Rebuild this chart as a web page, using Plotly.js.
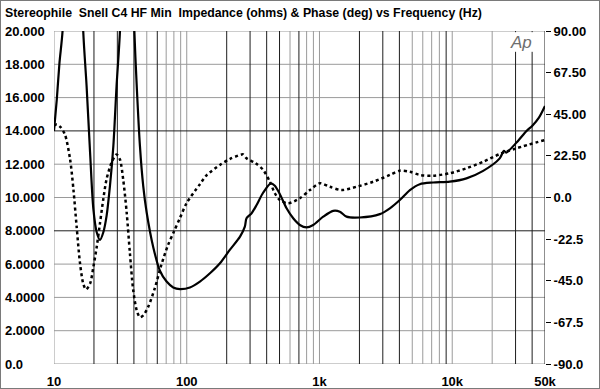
<!DOCTYPE html>
<html><head><meta charset="utf-8">
<script src="https://cdn.plot.ly/plotly-3.0.1.min.js"></script>
<style>
html,body{margin:0;padding:0;background:#fff}
#wrap{position:relative;width:600px;height:389px}
#frame{position:absolute;left:0;top:0;width:598px;height:387px;border:1px solid #7a7a7a;pointer-events:none}
</style>
</head><body><div id="wrap"><div id="chart" style="width:600px;height:389px"></div><div id="frame"></div></div>
<script>
// Impedance magnitude (ohms) vs frequency (Hz)
const impFreq = [10, 10.5, 11.0, 11.6, 12.3, 13.0, 13.8, 14.6, 15.5, 16.6, 17.6, 18.7, 19.8, 21.0, 22.2, 23.5, 24.9, 26.4, 28.0, 29.6, 31.4, 33, 35, 37, 38.8, 40.3, 42.0, 44.4, 47.0, 49.9, 56.0, 62.8, 70.5, 79.1, 88.9, 105.7, 125.7, 149.6, 178, 211, 252, 274, 282, 308, 336, 377, 430, 461, 503, 565, 634, 711, 799, 897, 1067, 1268, 1424, 1600, 2013, 2850, 3390, 4030, 4800, 5700, 7180, 9590, 12800, 17100, 22800, 24500, 25500, 30500, 36300, 40000, 45000, 50000];
const impedance = [14.0, 15.9, 18.1, 20.0, 26, 40, 50, 40, 28, 20.0, 16.7, 12.7, 9.3, 7.9, 7.45, 7.9, 8.9, 10.7, 13.1, 16.7, 20.0, 27, 38, 32, 25, 20.0, 16.7, 13.1, 10.7, 9.1, 7.0, 5.6, 4.95, 4.6, 4.5, 4.6, 4.95, 5.45, 6.05, 6.85, 7.65, 8.25, 8.75, 9.05, 9.55, 10.3, 10.85, 10.7, 10.2, 9.35, 8.75, 8.35, 8.2, 8.35, 8.85, 9.2, 9.15, 8.85, 8.8, 9.0, 9.35, 9.85, 10.45, 10.8, 10.9, 10.95, 11.15, 11.6, 12.35, 12.8, 12.7, 13.3, 14.0, 14.3, 14.8, 15.5];

// Phase (degrees) vs frequency (Hz)
const phaseFreq = [10, 10.5, 11.2, 12.1, 13.2, 14.0, 14.8, 15.7, 16.6, 17.4, 18.7, 19.8, 21.0, 22.2, 23.5, 24.9, 27.2, 29.6, 31.4, 33.2, 35.3, 37.3, 39.5, 42.0, 44.4, 47.0, 51.3, 57.5, 64, 72, 80, 89, 99.8, 125.7, 141, 178, 211, 252, 266, 282, 330, 377, 423, 461, 503, 581, 711, 847, 1007, 1197, 1465, 1900, 2536, 3390, 4030, 4800, 5700, 7180, 9590, 12800, 17100, 22800, 30500, 50000];
const phase = [39, 39.5, 38, 34, 21, 4.5, -15.5, -35.5, -46.5, -49.7, -46.5, -37.5, -26.5, -14, -1, 10, 19, 23.3, 20.5, 9.8, -8.3, -30, -50, -61, -64.7, -63.7, -59, -49, -37, -26, -18.5, -11, -3, 7.2, 12.0, 17.6, 20.8, 23.0, 23.3, 21.2, 18.5, 14.9, 8.5, 2.3, -1.4, -3.1, -0.4, 4.0, 7.7, 5.8, 4.0, 5.8, 8.5, 12.2, 14.5, 13.9, 12.2, 11.8, 13.1, 15.8, 19.3, 23.5, 26.6, 31.1];

const titleText = 'Stereophile\u00a0\u00a0Snell C4 HF Min\u00a0\u00a0Impedance (ohms) & Phase (deg) vs Frequency (Hz)';
const xTickVals = [10, 100, 1000, 10000, 50000];
const xTickText = ['10', '100', '1k', '10k', '50k'];
const leftTickVals = [0, 2, 4, 6, 8, 10, 12, 14, 16, 18, 20];
const leftTickText = ['0.0', '2.0000', '4.0000', '6.0000', '8.0000', '10.000', '12.000', '14.000', '16.000', '18.000', '20.000'];
const rightTickVals = [-90, -67.5, -45, -22.5, 0, 22.5, 45, 67.5, 90];
const rightTickText = ['-90.0', '-67.5', '-45.0', '-22.5', '0.0', '22.50', '45.00', '67.50', '90.00'];
const darkGridFreqs = [20, 30, 40, 60, 200, 300, 400, 500, 700, 2000, 3000, 4000, 9000, 30000, 40000, 50000];
const lightGridFreqs = [10, 50, 70, 80, 90, 100, 600, 800, 900, 1000, 5000, 6000, 7000, 8000, 10000, 20000];
const darkGridOhms = [8, 14];
const lightGridOhms = [0, 2, 4, 6, 10, 12, 16, 18, 20];

const FONT = 'Liberation Sans, Arial, Helvetica, sans-serif';
const LIGHT = '#9a9a9a';
const DARK = '#1e1e1e';

const shapes = [];
lightGridOhms.forEach(v => shapes.push({type:'line', xref:'paper', x0:0, x1:1, yref:'y', y0:v, y1:v, layer:'between', line:{color:LIGHT, width:1}}));
lightGridFreqs.forEach(f => shapes.push({type:'line', xref:'x', x0:f, x1:f, yref:'paper', y0:0, y1:1, layer:'between', line:{color:LIGHT, width:1}}));
darkGridFreqs.forEach(f => shapes.push({type:'line', xref:'x', x0:f, x1:f, yref:'paper', y0:0, y1:1, layer:'between', line:{color:DARK, width:1}}));
darkGridOhms.forEach(v => shapes.push({type:'line', xref:'paper', x0:0, x1:1, yref:'y', y0:v, y1:v, layer:'between', line:{color:DARK, width:1}}));
// white patch behind the Ap logo
shapes.push({type:'rect', xref:'x', x0:27000, x1:45000, yref:'y', y0:18.75, y1:19.93, layer:'between', fillcolor:'#fff', line:{width:0}});

const annotations = leftTickVals.map((v, i) => ({
  xref:'paper', x:-51/491, yref:'y', y:v, xanchor:'left', yanchor:'middle',
  text:leftTickText[i], showarrow:false, font:{family:FONT, size:13, color:'#000', weight:700}
}));
annotations.push({xref:'paper', x:(521-54)/491, yref:'paper', y:1-(12/333), xanchor:'center', yanchor:'middle',
  text:'Ap', showarrow:false, font:{family:FONT, size:17, color:'#6e6e6e', style:'italic'}});

const traces = [
  {x:impFreq, y:impedance, type:'scatter', mode:'lines', yaxis:'y',
   line:{color:'#000', width:2.2, shape:'spline', smoothing:0.8}, hoverinfo:'skip'},
  {x:phaseFreq, y:phase, type:'scatter', mode:'lines', yaxis:'y2',
   line:{color:'#000', width:2.5, dash:'dot', shape:'spline', smoothing:0.8}, hoverinfo:'skip'}
];

const layout = {
  width:600, height:389,
  margin:{l:54, r:55, t:31, b:25, pad:0},
  paper_bgcolor:'#fff', plot_bgcolor:'#fff',
  showlegend:false,
  title:{text:titleText, x:5/600, xanchor:'left', xref:'container', y:1-13/389, yanchor:'middle', yref:'container',
         font:{family:FONT, size:12.3, color:'#000', weight:700}},
  xaxis:{type:'log', range:[1, Math.log10(50000)], tickvals:xTickVals, ticktext:xTickText,
         ticks:'outside', ticklen:5, tickcolor:'rgba(0,0,0,0)', showgrid:false, zeroline:false, showline:false,
         tickfont:{family:FONT, size:13, color:'#000', weight:700}},
  yaxis:{range:[0, 20], showgrid:false, zeroline:false, showticklabels:false, ticks:'', showline:false},
  yaxis2:{range:[-90, 90], overlaying:'y', side:'right', tickvals:rightTickVals, ticktext:rightTickText,
          ticks:'outside', ticklen:5, tickcolor:'#000', tickwidth:1, showgrid:false, zeroline:false, showline:false,
          tickfont:{family:FONT, size:13, color:'#000', weight:700}},
  shapes:shapes,
  annotations:annotations
};

Plotly.newPlot('chart', traces, layout, {staticPlot:true, displayModeBar:false});
</script>
</body></html>
